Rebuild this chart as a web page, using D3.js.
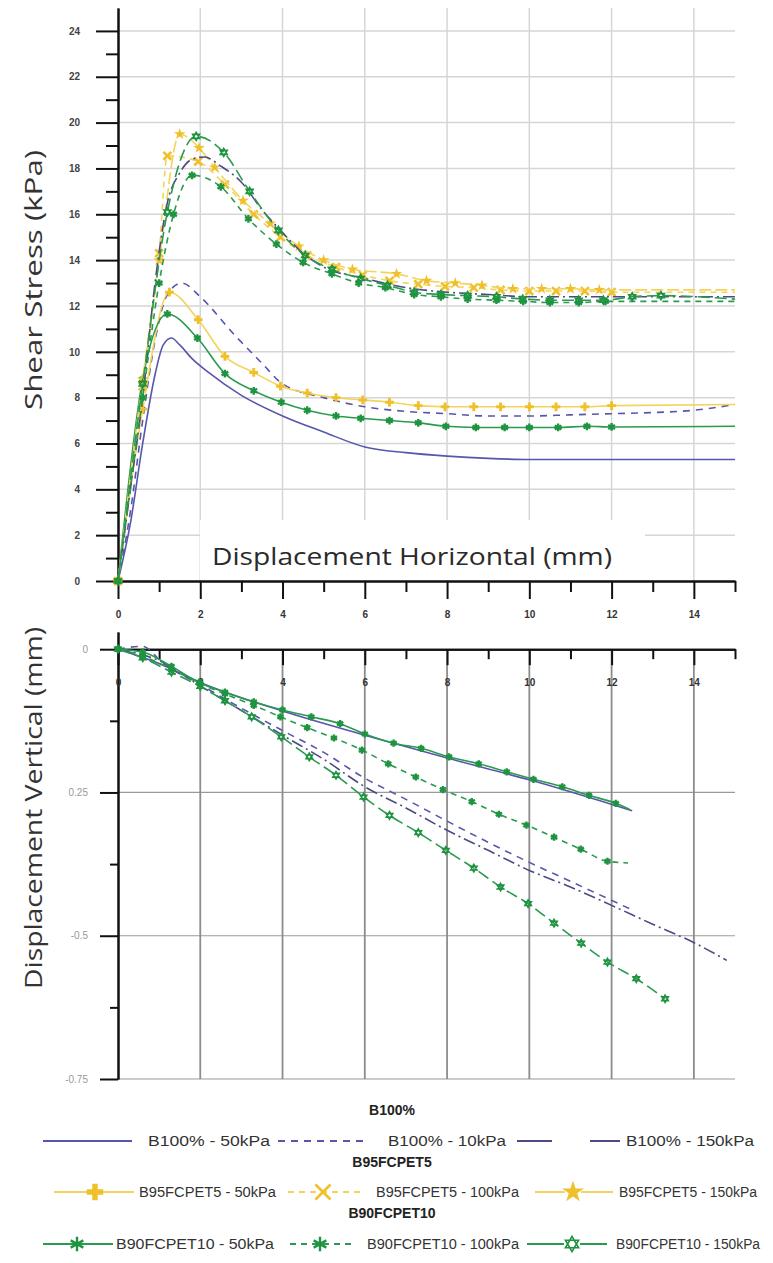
<!DOCTYPE html>
<html>
<head>
<meta charset="utf-8">
<script src="https://cdn.jsdelivr.net/npm/d3@7"></script>
<style>
body { margin: 0; background: #fff; }
svg { display: block; font-family: "Liberation Sans", Arial, sans-serif; }
</style>
</head>
<body>
<div id="chart"></div>
<script>
// ---- tick values ----
const xMajor = [0, 2, 4, 6, 8, 10, 12, 14];
const xMinor = [1, 3, 5, 7, 9, 11, 13, 15];
const shearMajor = [0, 2, 4, 6, 8, 10, 12, 14, 16, 18, 20, 22, 24];
const shearMinor = [1, 3, 5, 7, 9, 11, 13, 15, 17, 19, 21, 23];
const vertMajor = [0, -0.25, -0.5, -0.75];
const vertMinor = [-0.125, -0.375, -0.625];
const vertLabels = ["0", "0.25", "-0.5", "-0.75"];

const groupNames = ["B100%", "B95FCPET5", "B90FCPET10"];
const seriesNames = [
  ["B100% - 50kPa", "B100% - 10kPa", "B100% - 150kPa"],
  ["B95FCPET5 - 50kPa", "B95FCPET5 - 100kPa", "B95FCPET5 - 150kPa"],
  ["B90FCPET10 - 50kPa", "B90FCPET10 - 100kPa", "B90FCPET10 - 150kPa"]
];

// ---- shear stress (kPa) vs horizontal displacement (mm) ----
const shearB100_50 = [[0,0],[0.3,2.5],[0.6,6],[0.9,9],[1.1,10.3],[1.3,10.6],[1.5,10.3],[1.8,9.7],[2.2,9.1],[3,8.1],[4,7.2],[5,6.5],[6,5.85],[7,5.6],[8,5.45],[9,5.35],[10,5.3],[12,5.3],[15,5.3]];
const shearB100_100 = [[0,0],[0.3,3],[0.6,7],[0.9,10.5],[1.2,12.5],[1.55,13],[2,12.4],[2.8,10.8],[3.5,9.5],[4,8.6],[5,8.0],[6,7.6],[7,7.4],[8,7.3],[9,7.2],[10,7.2],[11,7.25],[12,7.3],[13,7.35],[14,7.45],[15,7.7]];
const shearB100_150 = [[0,0],[0.3,4],[0.6,8],[0.9,13],[1.2,16.5],[1.5,17.8],[1.8,18.4],[2.1,18.5],[2.5,18.1],[3,17.4],[3.5,16.2],[4,15.2],[4.5,14.3],[5,13.7],[6,13.2],[7,12.8],[8,12.6],[9,12.5],[10,12.4],[12,12.4],[15,12.4]];
const shearB95_50 = [[0,0],[0.6,7.5],[1.25,12.6],[1.95,11.4],[2.6,9.8],[3.3,9.1],[3.95,8.5],[4.6,8.2],[5.3,8.0],[5.95,7.9],[6.6,7.8],[7.3,7.65],[7.95,7.6],[8.65,7.6],[9.3,7.6],[10.0,7.6],[10.65,7.6],[11.35,7.6],[12.0,7.65],[15,7.7]];
const shearB95_100 = [[0,0],[0.6,8.5],[1.0,14.3],[1.2,18.55],[1.95,18.3],[2.6,17.3],[3.3,16.0],[3.95,15.0],[4.6,14.2],[5.3,13.7],[5.95,13.35],[6.6,13.1],[7.3,12.95],[7.95,12.85],[8.65,12.8],[9.3,12.7],[10.0,12.65],[10.65,12.65],[11.35,12.65],[12.0,12.6],[15,12.6]];
const shearB95_150 = [[0,0],[0.6,8.8],[1.0,14.0],[1.5,19.5],[1.97,18.9],[2.35,18.05],[3.04,16.6],[3.7,15.6],[4.4,14.6],[5.0,14.0],[5.7,13.6],[6.77,13.4],[7.5,13.1],[8.2,13.0],[8.85,12.9],[9.6,12.75],[10.3,12.75],[11.0,12.75],[11.7,12.7],[15,12.7]];
const shearB90_50 = [[0,0],[0.6,8.8],[1.2,11.65],[1.93,10.6],[2.6,9.05],[3.3,8.3],[3.97,7.8],[4.6,7.45],[5.3,7.2],[5.9,7.1],[6.6,7.0],[7.3,6.9],[7.97,6.75],[8.7,6.7],[9.4,6.7],[10.0,6.7],[10.7,6.7],[11.4,6.75],[12.0,6.72],[15,6.75]];
const shearB90_100 = [[0,0],[0.6,8.0],[1.0,13.0],[1.35,16.0],[1.8,17.7],[2.5,17.2],[3.17,15.8],[3.85,14.7],[4.5,13.9],[5.2,13.4],[5.85,13.0],[6.5,12.8],[7.2,12.5],[7.85,12.4],[8.5,12.3],[9.2,12.25],[9.85,12.2],[10.5,12.15],[11.2,12.15],[11.85,12.2],[15,12.2]];
const shearB90_150 = [[0,0],[0.6,8.6],[1.2,16.1],[1.9,19.4],[2.57,18.7],[3.2,17.0],[3.9,15.3],[4.55,14.2],[5.2,13.6],[5.9,13.2],[6.55,12.9],[7.2,12.6],[7.85,12.5],[8.5,12.45],[9.2,12.4],[9.84,12.3],[10.5,12.25],[11.2,12.25],[11.8,12.25],[12.5,12.4],[13.2,12.45],[15,12.3]];

// ---- vertical displacement (mm) vs horizontal displacement (mm) ----
const vertB100_50 = [[0,0],[1,-0.025],[2,-0.058],[4,-0.108],[6,-0.15],[8,-0.19],[10,-0.228],[12.5,-0.282]];
const vertB100_100 = [[0,0],[0.6,0.005],[1.1,-0.025],[2,-0.062],[2.8,-0.095],[4,-0.142],[5,-0.18],[6,-0.225],[7,-0.262],[8,-0.3],[9,-0.337],[10,-0.372],[11,-0.405],[12.5,-0.455]];
const vertB100_150 = [[0,0],[1,-0.02],[2,-0.064],[3,-0.107],[4,-0.15],[5,-0.192],[6,-0.24],[7,-0.277],[8,-0.316],[9,-0.351],[10,-0.386],[11,-0.415],[12,-0.447],[13,-0.48],[14,-0.512],[14.8,-0.543]];
const vertB90_50 = [[0,0],[0.6,-0.005],[1.3,-0.03],[1.97,-0.058],[2.6,-0.075],[3.3,-0.092],[4.0,-0.106],[4.7,-0.118],[5.4,-0.13],[6.0,-0.148],[6.7,-0.164],[7.37,-0.173],[8.05,-0.188],[8.77,-0.2],[9.45,-0.214],[10.1,-0.227],[10.8,-0.24],[11.45,-0.255],[12.1,-0.269],[12.45,-0.28]];
const vertB90_100 = [[0,0],[0.6,-0.012],[1.3,-0.035],[2.0,-0.06],[2.6,-0.078],[3.3,-0.098],[3.95,-0.118],[4.6,-0.137],[5.25,-0.155],[5.93,-0.176],[6.57,-0.2],[7.24,-0.223],[7.9,-0.245],[8.6,-0.266],[9.26,-0.288],[9.93,-0.307],[10.6,-0.328],[11.25,-0.349],[11.9,-0.37],[12.4,-0.373]];
const vertB90_150 = [[0,0],[0.6,-0.015],[1.3,-0.04],[2.0,-0.065],[2.6,-0.09],[3.25,-0.118],[3.97,-0.153],[4.65,-0.188],[5.3,-0.22],[5.97,-0.258],[6.6,-0.29],[7.3,-0.32],[7.97,-0.351],[8.65,-0.382],[9.3,-0.415],[9.97,-0.444],[10.6,-0.478],[11.26,-0.513],[11.9,-0.546],[12.6,-0.575],[13.3,-0.61]];

// ---- styles ----
const purple = "#5656ad", purpleDark = "#4a4a86";
const yellowLine = "#f2d45c", yellowMark = "#f0c02a";
const greenLine = "#2a9a4e", greenMark = "#1f9440";

const style = {
  "B100% - 50kPa":       {line: purple,     dash: null,        marker: null},
  "B100% - 10kPa":       {line: purple,     dash: "7,6",       marker: null},
  "B100% - 150kPa":      {line: purpleDark, dash: "12,4,2,4",  legendDash: "35,38", marker: null},
  "B95FCPET5 - 50kPa":   {line: yellowLine, dash: null,        marker: "plus",  mark: yellowMark},
  "B95FCPET5 - 100kPa":  {line: yellowLine, dash: "6,5",       marker: "times", mark: yellowMark},
  "B95FCPET5 - 150kPa":  {line: yellowLine, dash: "12,4",      legendDash: null, marker: "star", mark: yellowMark},
  "B90FCPET10 - 50kPa":  {line: greenLine,  dash: null,        marker: "asterisk", mark: greenMark},
  "B90FCPET10 - 100kPa": {line: greenLine,  dash: "6,5",       marker: "asterisk", mark: greenMark},
  "B90FCPET10 - 150kPa": {line: greenLine,  dash: "12,5",      legendDash: null, marker: "hexagram", mark: greenMark}
};

const shearSeries = [
  {name: "B100% - 50kPa", data: shearB100_50},
  {name: "B100% - 10kPa", data: shearB100_100},
  {name: "B95FCPET5 - 50kPa", data: shearB95_50, tail: true},
  {name: "B90FCPET10 - 50kPa", data: shearB90_50, tail: true},
  {name: "B95FCPET5 - 100kPa", data: shearB95_100, tail: true},
  {name: "B95FCPET5 - 150kPa", data: shearB95_150, tail: true},
  {name: "B100% - 150kPa", data: shearB100_150},
  {name: "B90FCPET10 - 100kPa", data: shearB90_100, tail: true},
  {name: "B90FCPET10 - 150kPa", data: shearB90_150, tail: true}
];
const vertSeries = [
  {name: "B100% - 150kPa", data: vertB100_150},
  {name: "B100% - 10kPa", data: vertB100_100},
  {name: "B100% - 50kPa", data: vertB100_50},
  {name: "B90FCPET10 - 150kPa", data: vertB90_150},
  {name: "B90FCPET10 - 100kPa", data: vertB90_100, tail: true},
  {name: "B90FCPET10 - 50kPa", data: vertB90_50, tail: true}
];

const svg = d3.select("#chart").append("svg")
  .attr("width", 773)
  .attr("height", 1263);

const x = d3.scaleLinear().domain([0, 15]).range([118, 735]);
const yS = d3.scaleLinear().domain([0, 25]).range([581, 8]);
const yV = d3.scaleLinear().domain([-0.75, 0.03]).range([1079, 632]);

function markerPath(type, size) {
  if (type === "hexagram") {
    let r = Math.sqrt(size) * 0.62, h = r * 0.866;
    return `M0,${-r}L${h},${r/2}L${-h},${r/2}Z M0,${r}L${h},${-r/2}L${-h},${-r/2}Z`;
  }
  let sym = {plus: d3.symbolCross, times: d3.symbolTimes, star: d3.symbolStar, asterisk: d3.symbolAsterisk}[type];
  return d3.symbol(sym, size)();
}

function drawMarker(g, type, color, px, py, size) {
  let p = g.append("path")
    .attr("d", markerPath(type, size))
    .attr("transform", `translate(${px},${py})`);
  if (type === "plus" || type === "star") {
    p.attr("fill", color);
  } else if (type === "hexagram") {
    p.attr("fill", "#fff").attr("stroke", color).attr("stroke-width", 1.6);
  } else {
    p.attr("fill", "none").attr("stroke", color).attr("stroke-width", type === "asterisk" ? 2.4 : 2.6);
  }
}

function drawSeries(g, list, yScale, markSize) {
  list.forEach(s => {
    let st = style[s.name];
    let line = d3.line().x(d => x(d[0])).y(d => yScale(d[1])).curve(d3.curveMonotoneX);
    g.append("path")
      .datum(s.data)
      .attr("d", line)
      .attr("fill", "none")
      .attr("stroke", st.line)
      .attr("stroke-width", 1.6)
      .attr("stroke-dasharray", st.dash);
    if (st.marker) {
      let pts = s.tail ? s.data.slice(0, -1) : s.data;
      pts.forEach(d => drawMarker(g, st.marker, st.mark, x(d[0]), yScale(d[1]), markSize));
    }
  });
}

function styleAxis(g, textFill, fontSize) {
  g.select(".domain").attr("stroke", "#111").attr("stroke-width", 2);
  g.selectAll(".tick line").attr("stroke", "#111").attr("stroke-width", 2);
  g.selectAll(".tick text")
    .attr("fill", textFill)
    .attr("font-size", fontSize)
    .attr("font-weight", "bold")
    .attr("font-family", "Liberation Sans, Arial, sans-serif");
}

// ================= top panel =================
let topPanel = svg.append("g");

topPanel.append("g").selectAll("line")
  .data(shearMajor.filter(d => d > 0))
  .join("line")
  .attr("x1", x(0)).attr("x2", x(15))
  .attr("y1", d => yS(d)).attr("y2", d => yS(d))
  .attr("stroke", "#d6d6d6").attr("stroke-width", 1.5);

topPanel.append("g").selectAll("line")
  .data(xMajor.filter(d => d > 0))
  .join("line")
  .attr("x1", d => x(d)).attr("x2", d => x(d))
  .attr("y1", yS(0)).attr("y2", yS(25))
  .attr("stroke", "#d6d6d6").attr("stroke-width", 1.5);

// white box behind the horizontal title
topPanel.append("rect")
  .attr("x", 200).attr("y", 520)
  .attr("width", 445).attr("height", yS(0) - 521)
  .attr("fill", "#fff");

topPanel.append("text")
  .attr("x", 212).attr("y", 565)
  .attr("font-family", "Open Sans, Noto Sans, sans-serif")
  .attr("font-size", 24)
  .attr("fill", "#2a2a2a")
  .attr("textLength", 400)
  .attr("lengthAdjust", "spacingAndGlyphs")
  .text("Displacement Horizontal (mm)");

topPanel.append("text")
  .attr("transform", "translate(42,280) rotate(-90)")
  .attr("text-anchor", "middle")
  .attr("font-family", "Open Sans, Noto Sans, sans-serif")
  .attr("font-size", 23)
  .attr("fill", "#333")
  .attr("textLength", 260)
  .attr("lengthAdjust", "spacingAndGlyphs")
  .text("Shear Stress (kPa)");

let tyMinor = topPanel.append("g").attr("transform", `translate(${x(0)},0)`)
  .call(d3.axisLeft(yS).tickValues(shearMinor).tickSize(12).tickFormat("").tickSizeOuter(0));
styleAxis(tyMinor, "#444", 10);
let tyMajor = topPanel.append("g").attr("transform", `translate(${x(0)},0)`)
  .call(d3.axisLeft(yS).tickValues(shearMajor).tickSize(22).tickPadding(16).tickSizeOuter(0));
styleAxis(tyMajor, "#444", 10);

let txMinor = topPanel.append("g").attr("transform", `translate(0,${yS(0)})`)
  .call(d3.axisBottom(x).tickValues(xMinor).tickSize(11).tickFormat("").tickSizeOuter(0));
styleAxis(txMinor, "#333", 10);
let txMajor = topPanel.append("g").attr("transform", `translate(0,${yS(0)})`)
  .call(d3.axisBottom(x).tickValues(xMajor).tickSize(18).tickPadding(12).tickSizeOuter(0));
styleAxis(txMajor, "#333", 10);

drawSeries(topPanel.append("g"), shearSeries, yS, 42);

// ================= bottom panel =================
let botPanel = svg.append("g");

botPanel.append("g").selectAll("line")
  .data(vertMajor.filter(d => d < 0))
  .join("line")
  .attr("x1", x(0)).attr("x2", x(15))
  .attr("y1", d => yV(d)).attr("y2", d => yV(d))
  .attr("stroke", "#9a9a9a").attr("stroke-width", 1.2);

botPanel.append("g").selectAll("line")
  .data(xMajor.filter(d => d > 0))
  .join("line")
  .attr("x1", d => x(d)).attr("x2", d => x(d))
  .attr("y1", yV(0)).attr("y2", yV(-0.75))
  .attr("stroke", "#8c8c8c").attr("stroke-width", 1.8);

botPanel.append("text")
  .attr("transform", "translate(42,808) rotate(-90)")
  .attr("text-anchor", "middle")
  .attr("font-family", "Open Sans, Noto Sans, sans-serif")
  .attr("font-size", 23)
  .attr("fill", "#333")
  .attr("textLength", 362)
  .attr("lengthAdjust", "spacingAndGlyphs")
  .text("Displacement Vertical (mm)");

let byMinor = botPanel.append("g").attr("transform", `translate(${x(0)},0)`)
  .call(d3.axisLeft(yV).tickValues(vertMinor).tickSize(8).tickFormat("").tickSizeOuter(0));
styleAxis(byMinor, "#888", 10);
let byMajor = botPanel.append("g").attr("transform", `translate(${x(0)},0)`)
  .call(d3.axisLeft(yV).tickValues(vertMajor).tickSize(18).tickPadding(12).tickSizeOuter(0)
    .tickFormat((d, i) => vertLabels[i]));
styleAxis(byMajor, "#999", 10);
byMajor.selectAll(".tick text").attr("font-weight", "normal");

let bxMinor = botPanel.append("g").attr("transform", `translate(0,${yV(0)})`)
  .call(d3.axisBottom(x).tickValues(xMinor).tickSize(10).tickFormat("").tickSizeOuter(0));
styleAxis(bxMinor, "#333", 10);
let bxMajor = botPanel.append("g").attr("transform", `translate(0,${yV(0)})`)
  .call(d3.axisBottom(x).tickValues(xMajor).tickSize(16).tickPadding(14).tickSizeOuter(0));
styleAxis(bxMajor, "#333", 10);

drawSeries(botPanel.append("g"), vertSeries, yV, 36);

// ================= legend =================
let leg = svg.append("g")
  .attr("font-family", "Liberation Sans Narrow, Arial Narrow, Liberation Sans, sans-serif")
  .attr("fill", "#333");

const titleY = [1115, 1167, 1218];
const rowY = [1141, 1192, 1244];
// per column: sample start/end, marker x, text start, text width
const rowLayout = [
  [{x1: 43, x2: 132, tx: 148, tw: 122}, {x1: 278, x2: 368, tx: 388, tw: 118}, {x1: 517, x2: 620, tx: 626, tw: 128}],
  [{x1: 54, x2: 134, mx: 95, tx: 139, tw: 137}, {x1: 288, x2: 360, mx: 323, tx: 376, tw: 143}, {x1: 535, x2: 613, mx: 573, tx: 619, tw: 138}],
  [{x1: 43, x2: 113, mx: 77, tx: 116, tw: 158}, {x1: 290, x2: 356, mx: 320, tx: 367, tw: 152}, {x1: 527, x2: 607, mx: 572, tx: 616, tw: 144}]
];

groupNames.forEach((gname, gi) => {
  leg.append("text")
    .attr("x", 392).attr("y", titleY[gi])
    .attr("text-anchor", "middle")
    .attr("font-size", 14)
    .attr("font-weight", "bold")
    .attr("font-stretch", "condensed")
    .attr("fill", "#222")
    .text(gname);

  seriesNames[gi].forEach((sname, si) => {
    let st = style[sname], lay = rowLayout[gi][si], cy = rowY[gi];
    let dash = st.legendDash !== undefined ? st.legendDash : st.dash;
    leg.append("line")
      .attr("x1", lay.x1).attr("x2", lay.x2)
      .attr("y1", cy).attr("y2", cy)
      .attr("stroke", st.line)
      .attr("stroke-width", 1.8)
      .attr("stroke-dasharray", dash);
    if (st.marker) {
      let g = leg.append("g");
      if (st.marker === "hexagram" || st.marker === "star") {
        g.append("rect").attr("x", lay.mx - 8).attr("y", cy - 9).attr("width", 16).attr("height", 18).attr("fill", "#fff");
      }
      drawMarker(g, st.marker, st.mark, lay.mx, cy, 150);
    }
    leg.append("text")
      .attr("x", lay.tx).attr("y", cy + 5)
      .attr("font-size", 14)
      .attr("font-stretch", "condensed")
      .attr("textLength", lay.tw)
      .attr("lengthAdjust", "spacingAndGlyphs")
      .text(sname);
  });
});
</script>
</body>
</html>
